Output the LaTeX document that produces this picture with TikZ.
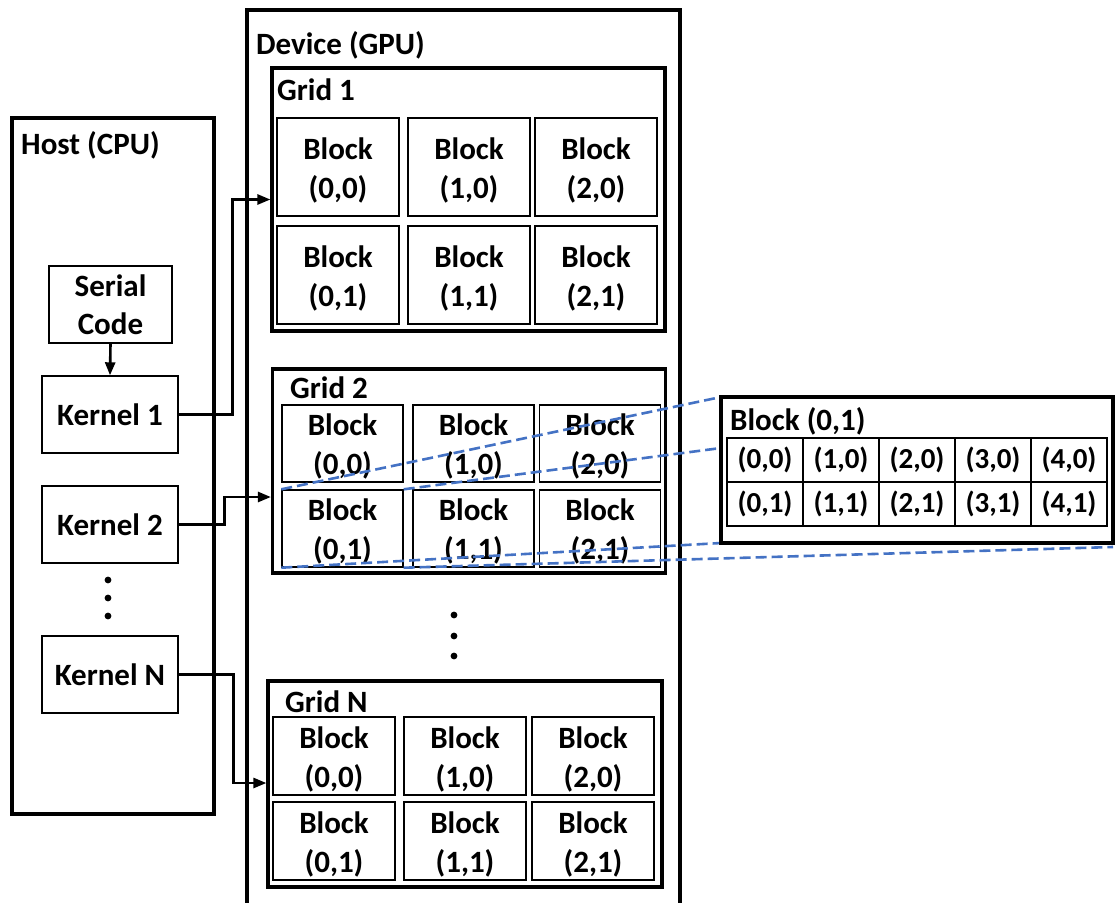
\documentclass[tikz,border=0pt]{standalone}
\usepackage{fontspec}
\setmainfont{Carlito}
\usetikzlibrary{arrows.meta,positioning}
\definecolor{zoomblue}{HTML}{4472C4}
\begin{document}
\begin{tikzpicture}[
        x=1pt, y=-1pt,
        every node/.style={font=\fontsize{31}{38}\selectfont\bfseries, align=center},
        outerbox/.style={draw, line width=4pt, rectangle, inner sep=0pt},
        gridbox/.style={draw, line width=3.2pt, rectangle, inner sep=0pt, minimum width=393pt},
        blockbox/.style={draw, line width=1.4pt, rectangle, inner sep=0pt, minimum width=122pt,
            font=\fontsize{31}{39}\selectfont\bfseries},
        codebox/.style={draw, line width=1.4pt, rectangle, inner sep=0pt, minimum height=77pt},
        cellbox/.style={draw, line width=1.4pt, rectangle, inner sep=0pt, minimum width=76pt, minimum height=44pt,
            font=\fontsize{29}{34}\selectfont\bfseries},
        title/.style={anchor=west, inner sep=0pt},
        link/.style={draw, line width=2.6pt, -{Triangle[length=13pt,width=10pt]}},
        zoomline/.style={draw=zoomblue, line width=2.6pt, dash pattern=on 11pt off 5pt},
    ]
    \useasboundingbox (0,0) rectangle (1115,902);
    \clip (0,0) rectangle (1115,902);

    % host side
    \node[outerbox, minimum width=202pt, minimum height=696pt] (host) at (113,466) {};
    \node[title] (hostlabel) at (21,145) {Host (CPU)};
    \node[codebox, minimum width=123pt] (serial) at (110.5,304.5) {Serial\\Code};
    \node[codebox, minimum width=136pt] (k1) at (110,414.5) {Kernel 1};
    \node[codebox, minimum width=136pt] (k2) at (110,524.5) {Kernel 2};
    \node[codebox, minimum width=136pt] (kN) at (110,674.5) {Kernel N};
    \foreach \y in {580,598,616}
        \fill (108,\y) circle (3.4pt);

    % device side
    \node[outerbox, minimum width=433pt, minimum height=900pt] (device) at (463.5,460) {};
    \node[title] (devicelabel) at (256,45) {Device (GPU)};

    \node[gridbox, minimum height=263pt] (g1) at (468.5,199.5) {};
    \node[title] (g1label) at (277,90) {Grid 1};
    \foreach \c/\x in {0/338,1/469,2/596}
        \foreach \r/\y in {0/167,1/275}
            \node[blockbox, minimum height=98pt] (g1-\c\r) at (\x,\y) {\rule{0pt}{28pt}Block\\(\c,\r)};

    \node[gridbox, minimum height=204pt] (g2) at (469,471) {};
    \node[title] (g2label) at (290,388) {Grid 2};
    \foreach \c/\x in {0/342.5,1/473.5,2/600}
        \foreach \r/\y in {0/443.5,1/528.5}
            \node[blockbox, minimum width=121pt, minimum height=77pt] (g2-\c\r) at (\x,\y) {\rule{0pt}{28pt}Block\\(\c,\r)};

    \foreach \y in {615,636,656}
        \fill (454,\y) circle (3.4pt);

    \node[gridbox, minimum width=394pt, minimum height=206pt] (gN) at (465,784) {};
    \node[title] (gNlabel) at (285,702) {Grid N};
    \foreach \c/\x in {0/334,1/465,2/593}
        \foreach \r/\y in {0/756,1/841}
            \node[blockbox, minimum height=78pt] (gN-\c\r) at (\x,\y) {\rule{0pt}{28pt}Block\\(\c,\r)};

    % kernel launches
    \draw[link] (serial.south) -- (k1.north);
    \draw[link] (k1.east) -- ++(54,0) |- (g1.west);
    \draw[link] (k2.east) -- ++(46,0) |- ([yshift=-26pt]g2.west);
    \draw[link] (kN.east) -- ++(55,0) |- ([yshift=1pt]gN.west);

    % zoom into one block
    \coordinate (zoomNE) at (1113,397);
    \coordinate (zoomSE) at (1113,547);
    \draw[zoomline] (g2-01.north west) -- (721,397);
    \draw[zoomline] (g2-01.north east) -- (zoomNE);
    \draw[zoomline] (g2-01.south west) -- (721,543);
    \draw[zoomline] (g2-01.south east) -- (zoomSE);

    \node[outerbox, fill=white, minimum width=392pt, minimum height=146pt] (detail) at (917,470) {};
    \node[title] (detaillabel) at (730,421) {Block (0,1)};
    \foreach \c in {0,...,4}
        \foreach \r in {0,1}
            \node[cellbox] (t-\c\r) at (765+76*\c,460+44*\r) {(\c,\r)};
\end{tikzpicture}
\end{document}
